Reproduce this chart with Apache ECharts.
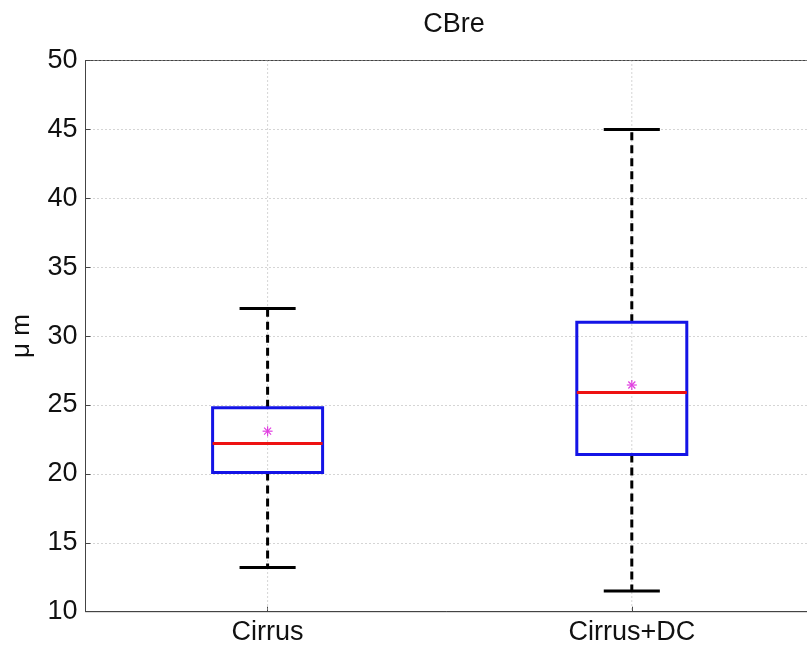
<!DOCTYPE html>
<html>
<head>
<meta charset="utf-8">
<script src="https://cdn.jsdelivr.net/npm/echarts@6/dist/echarts.min.js"></script>
<style>
  html, body { margin: 0; padding: 0; background: #fff; }
  #chart { width: 807px; height: 650px; }
</style>
</head>
<body>
<div id="chart"></div>
<script>
// Box plot of CBre effective radius (μm) for two cloud classes
const categories = ['Cirrus', 'Cirrus+DC'];
const whiskerLow = [13.2, 11.5];
const q1 = [20.1, 21.4];
const median = [22.2, 25.9];
const q3 = [24.8, 31.0];
const whiskerHigh = [32.0, 45.0];
const means = [23.1, 26.45];
const yTicks = [10, 15, 20, 25, 30, 35, 40, 45, 50];

const FONT = 'Liberation Sans, Arial, Helvetica, sans-serif';
const boxHalf = 0.151;
const capHalf = 0.077;

const data = categories.map((c, i) => [i + 1, whiskerLow[i], q1[i], median[i], q3[i], whiskerHigh[i], means[i]]);

function renderBox(params, api) {
  const x = api.value(0);
  const lo = api.value(1), a = api.value(2), m = api.value(3), b = api.value(4), hi = api.value(5), mu = api.value(6);
  const P = (vx, vy) => api.coord([vx, vy]);
  const children = [];
  // vertical dotted grid line at the category
  const gTop = P(x, yTicks[yTicks.length - 1]), gBot = P(x, yTicks[0]);
  children.push({ type: 'line', shape: { x1: gTop[0], y1: gTop[1], x2: gBot[0], y2: gBot[1] },
    style: { stroke: '#aaaaaa', lineWidth: 1, lineDash: [1, 3] }, z2: 0 });
  // whiskers (dashed)
  const wHi0 = P(x, b), wHi1 = P(x, hi), wLo0 = P(x, a), wLo1 = P(x, lo);
  children.push({ type: 'line', shape: { x1: wHi0[0], y1: wHi0[1], x2: wHi1[0], y2: wHi1[1] },
    style: { stroke: '#000', lineWidth: 3, lineDash: [8, 5] }, z2: 1 });
  children.push({ type: 'line', shape: { x1: wLo0[0], y1: wLo0[1], x2: wLo1[0], y2: wLo1[1] },
    style: { stroke: '#000', lineWidth: 3, lineDash: [8, 5] }, z2: 1 });
  // caps
  const cH0 = P(x - capHalf, hi), cH1 = P(x + capHalf, hi);
  const cL0 = P(x - capHalf, lo), cL1 = P(x + capHalf, lo);
  children.push({ type: 'line', shape: { x1: cH0[0], y1: cH0[1], x2: cH1[0], y2: cH1[1] },
    style: { stroke: '#000', lineWidth: 3 }, z2: 2 });
  children.push({ type: 'line', shape: { x1: cL0[0], y1: cL0[1], x2: cL1[0], y2: cL1[1] },
    style: { stroke: '#000', lineWidth: 3 }, z2: 2 });
  // box
  const bTL = P(x - boxHalf, b), bBR = P(x + boxHalf, a);
  children.push({ type: 'rect', shape: { x: bTL[0], y: bTL[1], width: bBR[0] - bTL[0], height: bBR[1] - bTL[1] },
    style: { fill: 'none', stroke: '#1414e6', lineWidth: 3 }, z2: 3 });
  // median
  const m0 = P(x - boxHalf, m), m1 = P(x + boxHalf, m);
  children.push({ type: 'line', shape: { x1: m0[0], y1: m0[1], x2: m1[0], y2: m1[1] },
    style: { stroke: '#ee1111', lineWidth: 3 }, z2: 4 });
  // mean marker (asterisk)
  const c = P(x, mu), r = 5, d = 3.5;
  const segs = [[-r, 0, r, 0], [0, -r, 0, r], [-d, -d, d, d], [-d, d, d, -d]];
  segs.forEach(s => children.push({ type: 'line',
    shape: { x1: c[0] + s[0], y1: c[1] + s[1], x2: c[0] + s[2], y2: c[1] + s[3] },
    style: { stroke: '#e040e0', lineWidth: 1.2 }, z2: 5 }));
  return { type: 'group', children };
}

const chart = echarts.init(document.getElementById('chart'), null, { renderer: 'canvas' });
chart.setOption({
  backgroundColor: '#fff',
  animation: false,
  title: {
    text: 'CBre', left: 449, top: 6, textAlign: 'center',
    textStyle: { fontFamily: FONT, fontSize: 27, fontWeight: 'normal', color: '#111' }
  },
  grid: {
    left: 85.5, top: 60.5, width: 728.4, height: 551.2,
    outerBoundsMode: 'none', containLabel: false,
    show: true, borderColor: '#444', borderWidth: 1, backgroundColor: 'transparent'
  },
  xAxis: {
    type: 'value', min: 0.5, max: 2.5,
    axisLine: { show: true, lineStyle: { color: '#444', width: 1 } },
    axisTick: { show: true, inside: true, length: 5, customValues: [1, 2], lineStyle: { color: '#444' } },
    splitLine: { show: false },
    axisLabel: {
      customValues: [1, 2], margin: 7,
      formatter: v => categories[Math.round(v) - 1] || '',
      fontFamily: FONT, fontSize: 27, color: '#111'
    }
  },
  yAxis: {
    type: 'value', min: yTicks[0], max: yTicks[yTicks.length - 1], interval: 5,
    name: 'μ m', nameLocation: 'middle', nameGap: 51, nameRotate: 90,
    nameTextStyle: { fontFamily: FONT, fontSize: 26, color: '#111' },
    axisLine: { show: true, lineStyle: { color: '#444', width: 1 } },
    axisTick: { show: true, inside: true, length: 5, lineStyle: { color: '#444' } },
    splitLine: { show: true, lineStyle: { color: '#aaaaaa', type: [1, 3], width: 1 } },
    axisLabel: { margin: 8, fontFamily: FONT, fontSize: 27, color: '#111' }
  },
  series: [{
    type: 'custom',
    renderItem: renderBox,
    data: data,
    encode: { x: 0, y: [1, 2, 3, 4, 5, 6] },
    silent: true
  }]
});
</script>
</body>
</html>
